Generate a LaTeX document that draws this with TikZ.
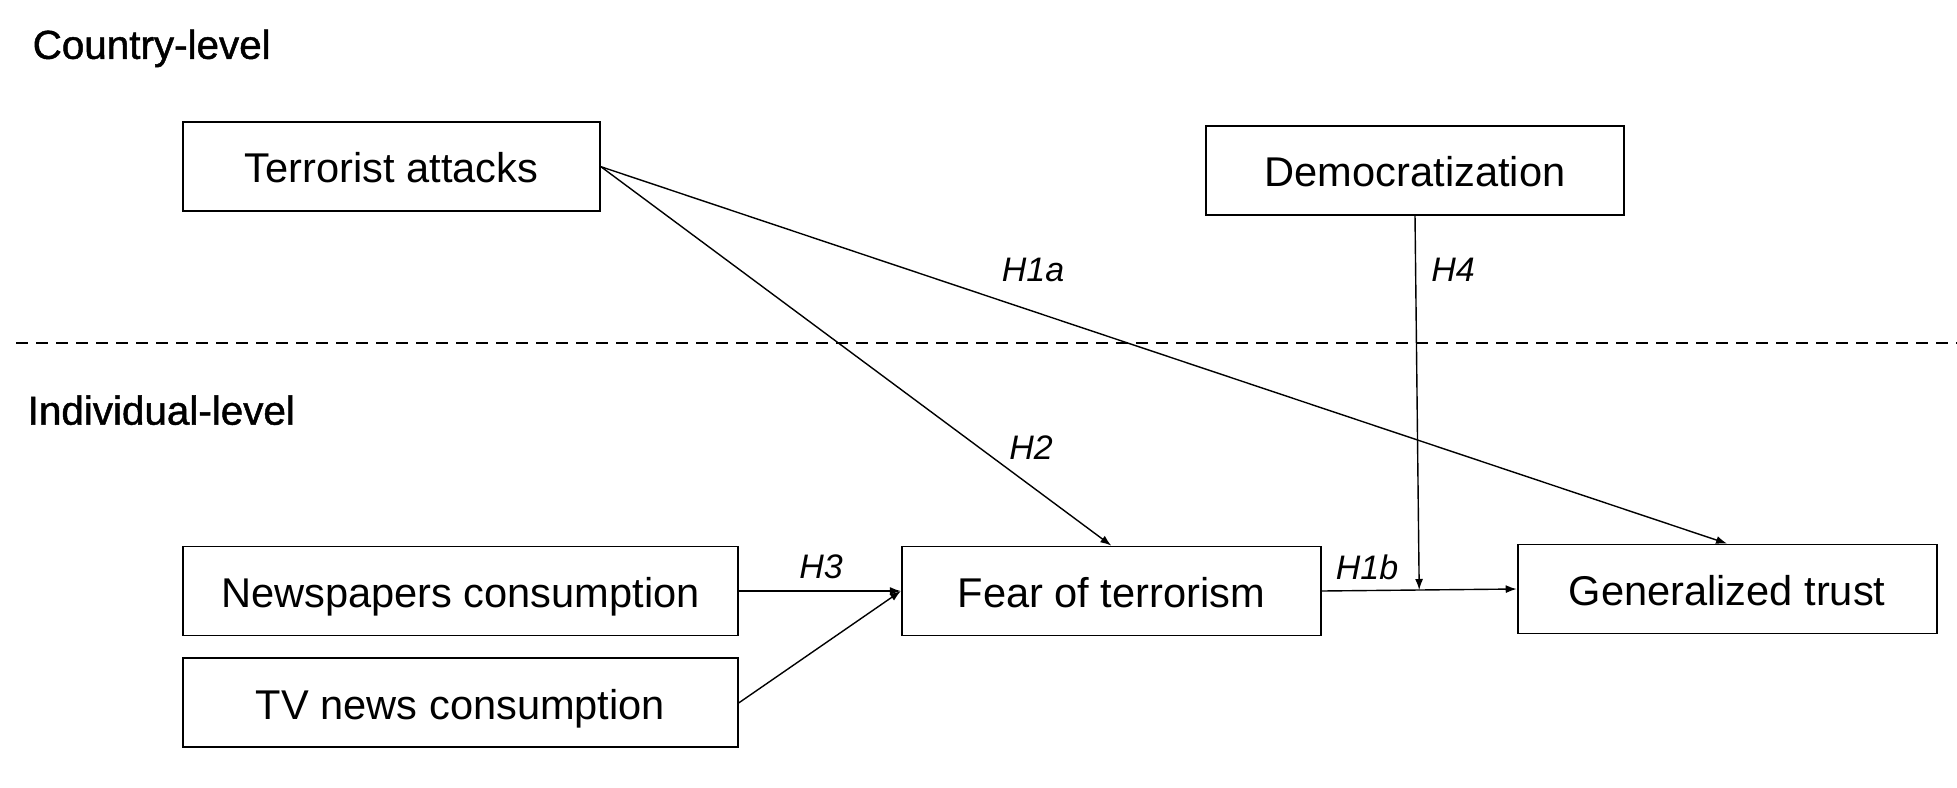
\documentclass[tikz,border=0pt]{standalone}
\usepackage{fontspec}
\setmainfont{Liberation Sans}
\newfontfamily\headfont[RawFeature={embolden=1.2}]{Liberation Sans}
\usetikzlibrary{arrows.meta,positioning,calc}

\begin{document}
\begin{tikzpicture}[x=1pt, y=1pt, ->, >={Latex[length=5.5pt,width=4pt]}, line width=0.7pt]
    \tikzstyle{var}=[draw=black, line width=0.9pt, minimum height=44.5pt, inner sep=0pt, text height=17.7pt, text depth=1.5pt, font=\fontsize{20.8}{24}\selectfont]
    \tikzstyle{hyp}=[inner sep=0pt, font=\fontsize{17}{20}\selectfont\itshape]
    \tikzstyle{level}=[anchor=west, inner sep=0pt, font=\headfont\fontsize{20.2}{24}\selectfont]

    \useasboundingbox (0,0) rectangle (978.5,-393.5);

    % individual level
    \node[var, minimum width=277.5pt] (news) at (230.25,-295.5) {Newspapers consumption};
    \node[var, minimum width=277.5pt] (tv)[below=10.5pt of news] {TV news consumption};
    \node[var, minimum width=209.5pt] (fear)[right=81pt of news] {Fear of terrorism};
    \node[var, minimum width=209.5pt] (trust)[right=97.5pt of fear, yshift=1pt] {Generalized trust};

    % country level
    \node[var, minimum width=208.5pt] (attacks)[above=166.75pt of news.north west, anchor=south west] {Terrorist attacks};
    \node[var, minimum width=209pt] (democ) at (707.5,-85.25) {Democratization};

    % levels
    \node[level] (country) at (16,-24.2) {Country-level};
    \node[level] (indiv) at (13.5,-205.1) {Individual-level};
    \draw[-, dashed, dash pattern=on 6pt off 4pt, line width=0.9pt] (8,-171.5) -- (978.5,-171.5);

    % edges
    \coordinate (junc) at ($(fear.east)!0.5!(trust.west)$);
    \draw (attacks.east) -- (fear.north);
    \draw (attacks.east) -- (trust.north);
    \draw (news) -- (fear);
    \draw (tv.east) -- (fear.west);
    \draw (fear.east) -- (trust.west);
    \draw (democ.south) -- (junc);

    % hypotheses
    \node[hyp] (h1a) at (516.5,-135) {H1a};
    \node[hyp] (h4) at (726.5,-135) {H4};
    \node[hyp] (h2) at (515.5,-224) {H2};
    \node[hyp] (h3) at (410.5,-283.5) {H3};
    \node[hyp] (h1b) at (683.5,-283.5) {H1b};
\end{tikzpicture}
\end{document}
